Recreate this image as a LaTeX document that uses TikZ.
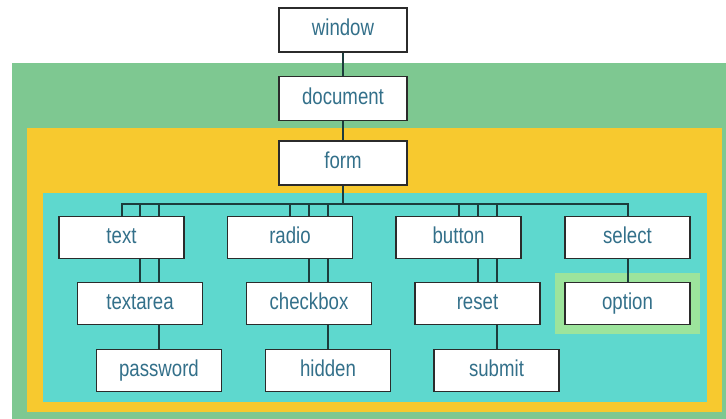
\documentclass[tikz,border=0pt]{standalone}
\usepackage{fontspec}
\newfontfamily\labfont[FakeStretch=0.81]{Liberation Sans}
\usetikzlibrary{fit}
\definecolor{bggreen}{HTML}{7EC891}
\definecolor{bgyellow}{HTML}{F7C92F}
\definecolor{bgteal}{HTML}{5ED8CE}
\definecolor{optgreen}{HTML}{9CE49C}
\definecolor{labtext}{HTML}{33708A}
\definecolor{boxline}{HTML}{2B2B2B}
\definecolor{wirecol}{HTML}{1C3C3C}
\pgfdeclarelayer{bg}
\pgfdeclarelayer{wires}
\pgfsetlayers{bg,wires,main}
\begin{document}
\begin{tikzpicture}[x=1pt,y=-1pt,
  elem/.style={draw=boxline, line width=1.5pt, fill=white, minimum width=125pt,
    minimum height=42pt, inner sep=0pt, text height=16.5pt, text depth=4.5pt,
    font=\labfont\fontsize{23}{27}\selectfont, text=labtext},
  topelem/.style={elem, minimum width=128pt, minimum height=44pt},
  wire/.style={draw=wirecol, line width=2pt, line cap=rect}]
\useasboundingbox (0,0) rectangle (726,419);
% nodes
\node[topelem] (window) at (343,30) {window};
\node[topelem] (document) at (343,98.5) {document};
\node[topelem] (form) at (343,163) {form};
\node[elem] (text) at (121.5,237.5) {text};
\node[elem] (radio) at (290,237.5) {radio};
\node[elem] (button) at (458.5,237.5) {button};
\node[elem] (select) at (627.5,237.5) {select};
\node[elem] (textarea) at (140,303.5) {textarea};
\node[elem] (checkbox) at (309,303.5) {checkbox};
\node[elem] (reset) at (477.5,303.5) {reset};
\node[elem] (option) at (627.5,303.5) {option};
\node[elem] (password) at (159,370.5) {password};
\node[elem] (hidden) at (328,370.5) {hidden};
\node[elem] (submit) at (496.5,370.5) {submit};
\coordinate (bus) at (0,204);
% background regions
\begin{pgfonlayer}{bg}
  \fill[bggreen] (12,63) rectangle (726,419);
  \fill[bgyellow] (27,128) rectangle (722,412);
  \fill[bgteal] (43,193) rectangle (707,402);
  \node[fit=(option), inner sep=9pt, fill=optgreen] (opthl) {};
\end{pgfonlayer}
% connectors
\begin{pgfonlayer}{wires}
  \draw[wire] (window) -- (document);
  \draw[wire] (document) -- (form);
  \draw[wire] (form.south) -- (form.south |- bus);
  \draw[wire] (text.north |- bus) -- (select.north |- bus);
  \foreach \n in {text,textarea,password,radio,checkbox,hidden,button,reset,submit,select,option}
    \draw[wire] (\n.north |- bus) -- (\n.north);
\end{pgfonlayer}
\end{tikzpicture}
\end{document}
